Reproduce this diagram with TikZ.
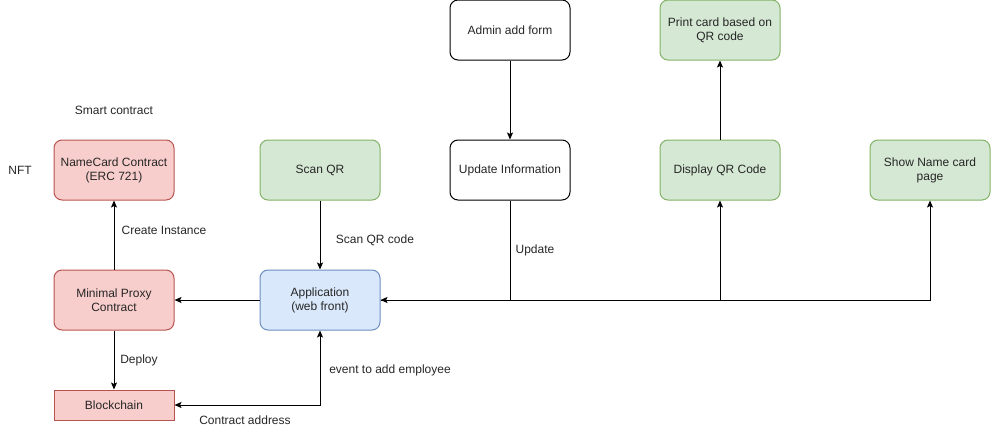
\documentclass[tikz,border=0pt]{standalone}
\usepackage{fontspec}
\setmainfont{Liberation Sans}
\usetikzlibrary{arrows.meta}
\definecolor{redfill}{HTML}{F8CECC}
\definecolor{redline}{HTML}{B85450}
\definecolor{greenfill}{HTML}{D5E8D4}
\definecolor{greenline}{HTML}{82B366}
\definecolor{bluefill}{HTML}{DAE8FC}
\definecolor{blueline}{HTML}{6C8EBF}
\tikzset{
  box/.style={draw, line width=1pt, rounded corners=8pt, minimum width=120pt, minimum height=60pt,
    align=center, inner sep=2pt, font=\fontsize{12}{14}\selectfont, text=black!85},
  redbox/.style={box, fill=redfill, draw=redline},
  greenbox/.style={box, fill=greenfill, draw=greenline},
  bluebox/.style={box, fill=bluefill, draw=blueline},
  whitebox/.style={box, fill=white, draw=black},
  lbl/.style={font=\fontsize{12}{14}\selectfont, text=black!85, inner sep=0pt},
  conn/.style={line width=1pt, -{Stealth[length=7pt,width=6pt,inset=1.5pt]}},
  conn2/.style={line width=1pt, {Stealth[length=7pt,width=6pt,inset=1.5pt]}-{Stealth[length=7pt,width=6pt,inset=1.5pt]}},
}
\begin{document}
\begin{tikzpicture}[x=1pt,y=-1pt]
\useasboundingbox (0,0) rectangle (991,432);
\node[redbox] (nc) at (114,170) {NameCard Contract\\(ERC 721)};
\node[redbox] (mp) at (114,300) {Minimal Proxy\\Contract};
\node[redbox, rounded corners=0pt, minimum height=30pt] (bc) at (114,405) {Blockchain};
\node[greenbox] (sq) at (320,170) {Scan QR};
\node[bluebox] (app) at (320,300) {Application\\(web front)};
\node[whitebox] (adm) at (510,30) {Admin add form};
\node[whitebox] (upd) at (510,170) {Update Information};
\node[greenbox] (pc) at (720,30) {Print card based on\\QR code};
\node[greenbox] (dq) at (720,170) {Display QR Code};
\node[greenbox] (sn) at (930,170) {Show Name card\\page};

\node[lbl] (l1) at (114,110) {Smart contract};
\node[lbl] (l2) at (20,170) {NFT};
\node[lbl] (l3) at (164,230) {Create Instance};
\node[lbl] (l4) at (375,240) {Scan QR code};
\node[lbl] (l5) at (535,250) {Update};
\node[lbl] (l6) at (139,360) {Deploy};
\node[lbl] (l7) at (390,370) {event to add employee};
\node[lbl] (l8) at (245,420) {Contract address};

\draw[conn] (mp) -- (nc);
\draw[conn] (app) -- (mp);
\draw[conn] (mp) -- (bc);
\draw[conn2] (bc.east) -| (app.south);
\draw[conn] (sq) -- (app);
\draw[conn] (adm) -- (upd);
\draw[conn] (upd.south) |- (app.east);
\draw[conn] (app.east) -| (dq.south);
\draw[conn] (app.east) -| (sn.south);
\draw[conn] (dq) -- (pc);
\end{tikzpicture}
\end{document}
